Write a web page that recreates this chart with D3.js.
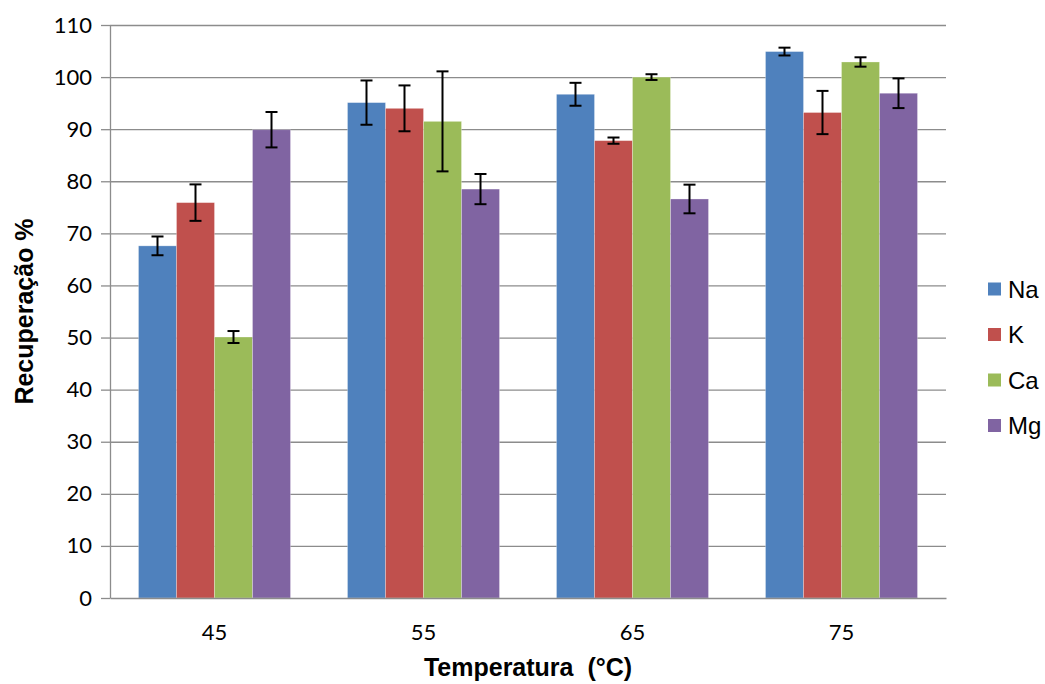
<!DOCTYPE html>
<html><head><meta charset="utf-8">
<script src="https://cdn.jsdelivr.net/npm/d3@7"></script>
<style>body{margin:0;background:#fff}svg{display:block}</style>
</head><body>
<svg id="c" width="1045" height="684"></svg>
<script>
const categories = ["45", "55", "65", "75"];
const seriesNames = ["Na", "K", "Ca", "Mg"];
const colors = ["#4f81bd", "#c0504d", "#9bbb59", "#8064a2"];
const naValues = [67.6, 95.1, 96.7, 104.9];
const kValues  = [75.9, 94.0, 87.8, 93.2];
const caValues = [50.1, 91.5, 100.0, 102.9];
const mgValues = [89.9, 78.5, 76.6, 96.9];
const naErr = [1.8, 4.25, 2.2, 0.75];
const kErr  = [3.5, 4.4, 0.6, 4.15];
const caErr = [1.15, 9.6, 0.55, 0.9];
const mgErr = [3.4, 2.9, 2.75, 2.85];
const yTicks = [0,10,20,30,40,50,60,70,80,90,100,110];

const values = [naValues, kValues, caValues, mgValues];
const errs = [naErr, kErr, caErr, mgErr];

const svg = d3.select("#c");
const L = 110, R = 946, T = 25, B = 598;
const x = d3.scaleBand().domain(categories).range([L, R]).paddingInner(0.2727).paddingOuter(0.13635);
const xs = d3.scaleBand().domain(seriesNames).range([0, x.bandwidth()]);
const y = d3.scaleLinear().domain([0, 110]).range([B, T]);

// gridlines
svg.append("g").selectAll("line").data(yTicks.filter(d => d > 0)).join("line")
  .attr("x1", L).attr("x2", R).attr("y1", d => y(d) + 0.5).attr("y2", d => y(d) + 0.5)
  .attr("stroke", "#8c8c8c").attr("stroke-width", 1.3);

// bars
const rows = [];
categories.forEach((c, i) => seriesNames.forEach((s, j) => rows.push({c, s, j, v: values[j][i], e: errs[j][i]})));
svg.append("g").selectAll("rect").data(rows).join("rect")
  .attr("x", d => x(d.c) + xs(d.s)).attr("width", xs.bandwidth())
  .attr("y", d => y(d.v)).attr("height", d => y(0) - y(d.v))
  .attr("fill", d => colors[d.j]).attr("stroke", "rgba(255,255,255,0.35)").attr("stroke-width", 0.8);

// error bars
const eg = svg.append("g").attr("stroke", "#000").attr("stroke-width", 2);
rows.forEach(d => {
  const cx = x(d.c) + xs(d.s) + xs.bandwidth() / 2;
  eg.append("line").attr("x1", cx).attr("x2", cx).attr("y1", y(d.v + d.e)).attr("y2", y(d.v - d.e));
  eg.append("line").attr("x1", cx - 6).attr("x2", cx + 6).attr("y1", y(d.v + d.e)).attr("y2", y(d.v + d.e));
  eg.append("line").attr("x1", cx - 6).attr("x2", cx + 6).attr("y1", y(d.v - d.e)).attr("y2", y(d.v - d.e));
});

// y axis
const ya = svg.append("g").attr("transform", `translate(${L},0)`)
  .call(d3.axisLeft(y).tickValues(yTicks).tickSize(9).tickPadding(9).tickSizeOuter(0));
ya.select(".domain").attr("stroke", "#8c8c8c").attr("stroke-width", 1.3);
ya.selectAll(".tick line").attr("stroke", "#8c8c8c").attr("stroke-width", 1.3);
ya.selectAll("text").attr("font-family", "Lato, 'Open Sans', sans-serif").attr("font-size", 22).attr("fill", "#000");

// x axis
const xa = svg.append("g").attr("transform", `translate(0,${B})`)
  .call(d3.axisBottom(x).tickSize(0).tickPadding(26).tickSizeOuter(0));
xa.select(".domain").attr("stroke", "#8c8c8c").attr("stroke-width", 1.3);
xa.selectAll("text").attr("font-family", "Lato, 'Open Sans', sans-serif").attr("font-size", 22).attr("fill", "#000");

// axis titles
svg.append("text").attr("x", (L + R) / 2).attr("y", 676).attr("text-anchor", "middle")
  .attr("font-family", "'Liberation Sans', Arial, sans-serif").attr("font-weight", "bold").attr("font-size", 25)
  .style("white-space", "pre").text("Temperatura  (°C)");
svg.append("text").attr("transform", `translate(33,${(T + B) / 2}) rotate(-90)`).attr("text-anchor", "middle")
  .attr("font-family", "'Liberation Sans', Arial, sans-serif").attr("font-weight", "bold").attr("font-size", 25)
  .text("Recuperação %");

// legend
const lg = svg.append("g").selectAll("g").data(seriesNames).join("g")
  .attr("transform", (d, i) => `translate(988,${289 + i * 45.5})`);
lg.append("rect").attr("x", 0).attr("y", -6.5).attr("width", 13).attr("height", 13).attr("fill", (d, i) => colors[i]);
lg.append("text").attr("x", 20).attr("y", 8.5).attr("font-family", "'Liberation Sans', Arial, sans-serif")
  .attr("font-size", 24).attr("fill", "#000").text(d => d);
</script>
</body></html>
